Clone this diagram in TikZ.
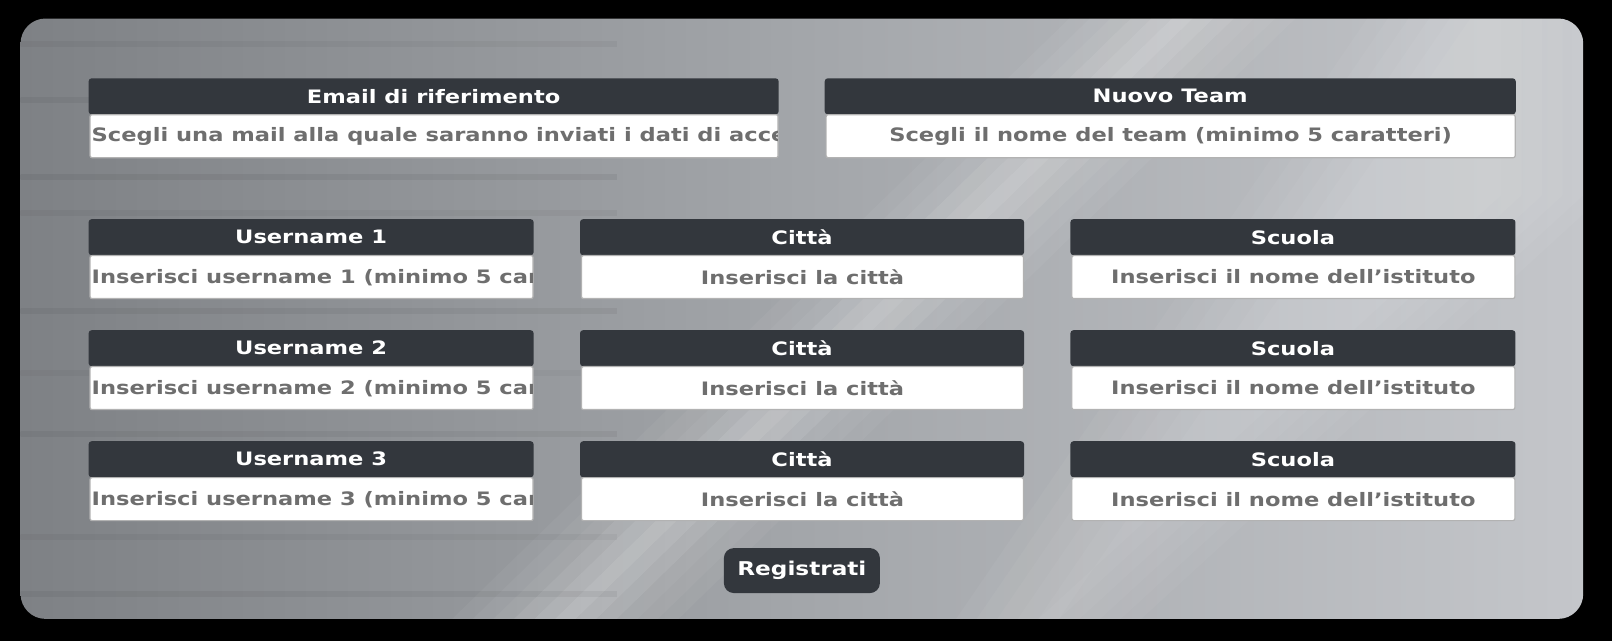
\documentclass[tikz,border=0pt]{standalone}
\usepackage{fontspec}
\setmainfont{DejaVu Sans}[FakeStretch=1.22]
\begin{document}
\begin{tikzpicture}[x=1.028pt,y=-1.028pt,
  fnt/.style={font=\bfseries\fontsize{18.5}{20}\selectfont},
  hdr/.style={fnt,fill=hdrc,rounded corners=3pt,minimum height=36pt,inner sep=0pt,text=white},
  inp/.style={fnt,fill=white,draw=gray!60,line width=1.2pt,rounded corners=2pt,minimum height=43pt,inner sep=0pt,text=inpc},
  btn/.style={fill=hdrc,rounded corners=10pt,minimum width=156pt,minimum height=45pt,inner sep=0pt,text=white,font=\bfseries\fontsize{19}{20}\selectfont}]
\definecolor{hdrc}{HTML}{33373D}
\definecolor{inpc}{HTML}{6E6E6E}
\definecolor{mA}{HTML}{7E8185}
\definecolor{mB}{HTML}{C4C6CA}
\definecolor{mC}{HTML}{A3A6AA}
\useasboundingbox (0,0) rectangle (1568,623.5);
\fill[black] (0,0) rectangle (1568,623.5);
\begin{scope}
\clip[rounded corners=25pt] (20,18) rectangle (1540,602);
\shade[left color=mA,right color=mB,middle color=mC] (20,18) rectangle (1540,602);
\foreach \s in {0,20,...,160}
  \fill[white,opacity=0.045] (1040+\s,18) -- (1260-\s,18) -- (660-\s,602) -- (440+\s,602) -- cycle;
\foreach \s in {0,20,...,100}
  \fill[white,opacity=0.04] (1330+\s,18) -- (1560-\s,18) -- (1560-\s,190) -- (1110-\s,602) -- (930+\s,602) -- cycle;
\foreach \yy/\o in {40/0.04,95/0.05,170/0.06,205/0.04,300/0.05,360/0.03,420/0.05,520/0.04,575/0.05}
  \shade[left color=black,right color=black,middle color=black,opacity=\o] (20,\yy) rectangle (600,\yy+5);
\end{scope}
% row 1
\node[hdr,minimum width=690pt,anchor=north west] (eh) at (86,76) {Email di riferimento};
\node[inp,minimum width=688pt,anchor=north west] (ei) at (87,111) {};
\begin{scope}\clip (87,111) rectangle (756,154);
\node[fnt,anchor=west,text=inpc,inner sep=0pt] (et) at (89,133) {Scegli una mail alla quale saranno inviati i dati di accesso};
\end{scope}
\node[hdr,minimum width=691pt,anchor=north west] (th) at (802,76) {Nuovo Team};
\node[inp,minimum width=689pt,anchor=north west] (ti) at (803,111) {Scegli il nome del team (minimo 5 caratteri)};
% rows
\foreach \n/\y in {1/213,2/321,3/429}{
  \node[hdr,minimum width=445pt,anchor=north west] (uh\n) at (86,\y) {Username \n};
  \node[inp,minimum width=443pt,anchor=north west] (ui\n) at (87,\y+35) {};
  \begin{scope}\clip (87,\y+35) rectangle (518,\y+78);
  \node[fnt,anchor=west,text=inpc,inner sep=0pt] (ut\n) at (89,\y+57) {Inserisci username \n\ (minimo 5 caratteri)};
  \end{scope}
  \node[hdr,minimum width=444pt,anchor=north west] (ch\n) at (564,\y) {Città};
  \node[inp,minimum width=442pt,anchor=north west] (ci\n) at (565,\y+35) {Inserisci la città};
  \node[hdr,minimum width=445pt,anchor=north west] (sh\n) at (1041,\y) {Scuola};
  \node[inp,minimum width=443pt,anchor=north west] (si\n) at (1042,\y+35) {Inserisci il nome dell'istituto};
}
\node[btn] (reg) at (780,555) {Registrati};
\end{tikzpicture}
\end{document}
